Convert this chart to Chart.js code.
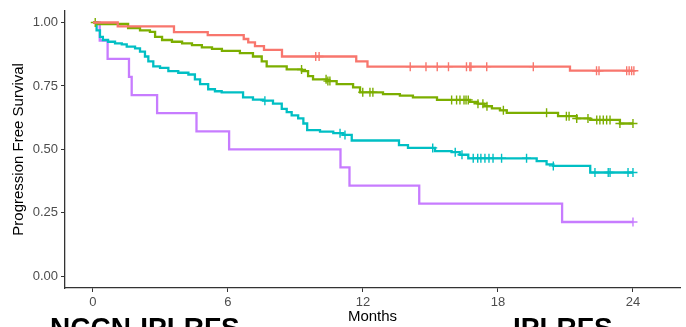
<!DOCTYPE html>
<html>
<head>
<meta charset="utf-8">
<script src="https://cdn.jsdelivr.net/npm/chart.js@4.4.1/dist/chart.umd.min.js"></script>
<style>
html,body{margin:0;padding:0;background:#fff;overflow:hidden}
#wrap{position:relative;width:686px;height:327px}
.cap{position:absolute;top:314px;font:bold 28px "Liberation Sans",Arial,sans-serif;color:#000;line-height:1;white-space:nowrap}
</style>
</head>
<body>
<div id="wrap">
  <canvas id="km" width="686" height="327"></canvas>
  <div class="cap" style="left:50px">NCCN-IPI-RFS</div>
  <div class="cap" style="left:513px">IPI-RFS</div>
</div>
<script>
/* Kaplan-Meier curves, four risk groups (months / survival after each drop) */
var monthTicks=[0,6,12,18,24];
var survTicks=[0,0.25,0.5,0.75,1];

var redT=[0,1.1,3.6,5.1,6.7,6.9,7.2,7.6,8.4,11.7,12.2,21.2,24];
var redS=[1,0.985,0.962,0.95,0.935,0.922,0.907,0.892,0.866,0.847,0.826,0.81,0.81];
var redC=[9.9,10.05,14.1,14.8,15.3,15.8,16.6,16.75,16.8,17.5,19.57,22.38,22.49,23.72,23.83,23.94,24.04];

var greenT=[0,0.2,1.56,2.09,2.53,2.76,3.07,3.51,3.96,4.4,4.84,5.29,5.73,6.53,7.11,7.5,7.72,8.61,9.28,9.56,9.78,10.39,10.83,11.56,11.87,12.89,13.64,14.22,15.29,16.76,17.1,17.4,17.73,18.09,18.39,20.67,21.5,22.1,23.42,24];
var greenS=[1,0.994,0.978,0.969,0.963,0.943,0.931,0.924,0.918,0.911,0.902,0.896,0.888,0.879,0.866,0.847,0.827,0.815,0.808,0.789,0.776,0.769,0.757,0.744,0.725,0.718,0.712,0.705,0.695,0.687,0.68,0.67,0.662,0.654,0.644,0.631,0.622,0.616,0.602,0.602];
var greenC=[0.1,9.27,10.36,10.44,10.53,11.99,12.31,12.44,15.94,16.16,16.31,16.49,16.58,16.68,17.11,17.33,17.51,18.24,20.16,21.04,21.16,21.5,22.0,22.39,22.53,22.68,22.83,22.98,23.42,24.0];

var cyanT=[0,0.16,0.31,0.44,0.67,0.98,1.28,1.5,1.87,2.09,2.31,2.46,2.68,2.98,3.35,3.79,4.24,4.53,4.76,5.12,5.42,5.72,6.67,7.11,7.56,8.0,8.39,8.61,8.83,9.12,9.35,9.52,10.09,10.68,11.12,11.5,13.6,14.0,15.2,15.94,16.3,16.68,19.72,20.16,20.46,22.1,24];
var cyanS=[1,0.969,0.943,0.931,0.924,0.918,0.914,0.905,0.898,0.885,0.866,0.847,0.827,0.821,0.808,0.802,0.795,0.776,0.757,0.737,0.729,0.725,0.705,0.696,0.692,0.68,0.66,0.647,0.634,0.622,0.602,0.576,0.57,0.564,0.557,0.535,0.517,0.506,0.493,0.489,0.479,0.465,0.454,0.441,0.435,0.409,0.409];
var cyanC=[7.64,10.98,11.2,15.1,16.1,16.4,16.9,17.1,17.24,17.42,17.6,17.78,18.16,19.27,20.46,22.31,22.9,22.98,23.78,24.0];

var purpleT=[0,0.3,0.65,1.6,1.72,2.85,4.6,6.05,11.0,11.4,14.5,20.85,24];
var purpleS=[1,0.929,0.857,0.786,0.714,0.643,0.571,0.5,0.429,0.357,0.286,0.214,0.214];
var purpleC=[24.0];

var groups=[
  {t:redT,s:redS,c:redC,col:'#F8766D'},
  {t:greenT,s:greenS,c:greenC,col:'#7CAE00'},
  {t:cyanT,s:cyanS,c:cyanC,col:'#00BFC4'},
  {t:purpleT,s:purpleS,c:purpleC,col:'#C77CFF'}
];

// survival level of a curve at time t (censor marks sit on the curve)
function levelAt(t,times,surv){var v=surv[0];for(var i=0;i<times.length;i++){if(times[i]<=t) v=surv[i];}return v;}

var ds=[];
groups.forEach(function(g){
  ds.push({data:g.t.map(function(t,i){return {x:t,y:g.s[i]};}),borderColor:g.col,borderWidth:2.3,stepped:true,pointRadius:0,fill:false});
  ds.push({data:g.c.map(function(t){return {x:t,y:levelAt(t,g.t,g.s)};}),showLine:false,pointStyle:'cross',pointRadius:4.5,pointBorderWidth:1.4,borderColor:g.col,backgroundColor:g.col});
});

var axisFont={family:'"Liberation Sans", Arial, sans-serif',size:13};
var titleFont={family:'"Liberation Sans", Arial, sans-serif',size:15};

new Chart(document.getElementById('km'),{
  type:'line',
  data:{datasets:ds},
  options:{
    responsive:false,animation:false,
    layout:{padding:{top:5,right:6,left:0,bottom:0}},
    plugins:{legend:{display:false},tooltip:{enabled:false}},
    scales:{
      x:{type:'linear',min:-1.244,max:26.09,
        afterBuildTicks:function(s){s.ticks=monthTicks.map(function(v){return {value:v};});},
        afterFit:function(s){s.height=39;},
        grid:{display:true,drawOnChartArea:false,drawTicks:true,tickLength:4,color:'#333'},
        border:{display:true,color:'#333',width:1.3},
        ticks:{font:axisFont,color:'#4d4d4d',padding:3,maxRotation:0},
        title:{display:true,text:'Months',font:titleFont,color:'#000',padding:{top:0,bottom:1}}},
      y:{type:'linear',min:-0.046,max:1.046,
        afterBuildTicks:function(s){s.ticks=survTicks.map(function(v){return {value:v};});},
        afterFit:function(s){s.width=65;},
        grid:{display:true,drawOnChartArea:false,drawTicks:true,tickLength:4,color:'#333'},
        border:{display:true,color:'#333',width:1.3},
        ticks:{font:axisFont,color:'#4d4d4d',padding:3,callback:function(v){return v.toFixed(2);}},
        title:{display:true,text:'Progression Free Survival',font:titleFont,color:'#000',padding:{top:10,bottom:0}}}
    }
  }
});
</script>
</body>
</html>
